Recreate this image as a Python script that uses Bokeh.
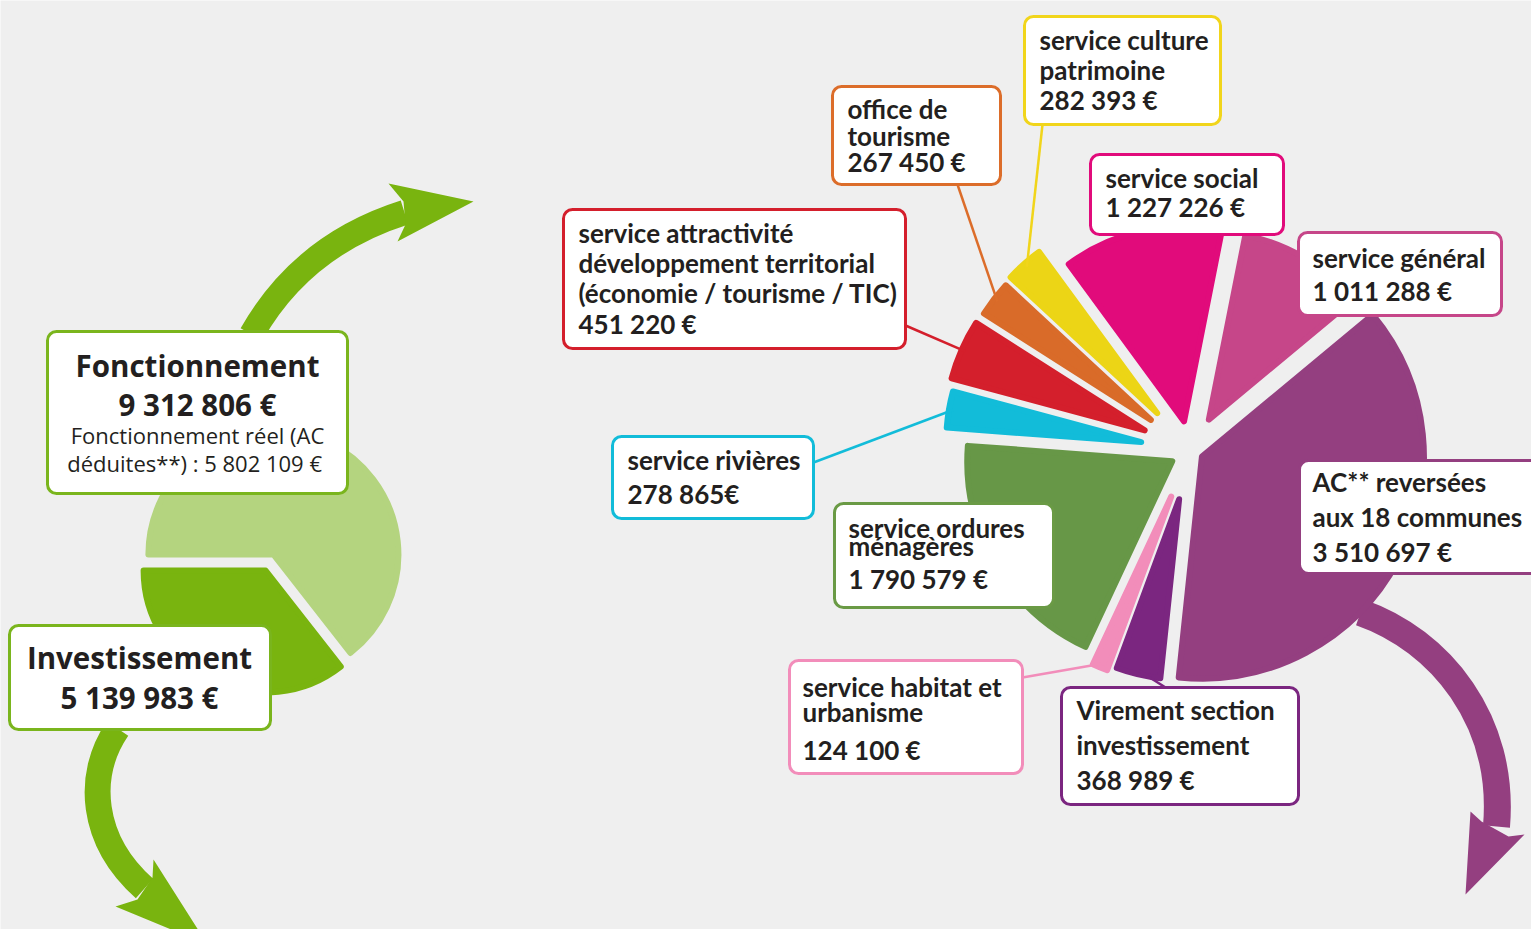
import math
from bokeh.plotting import figure
from bokeh.models import Range1d
from bokeh.core.properties import value
from bokeh.embed import file_html
from bokeh.resources import INLINE

# ---------------- data ----------------
summary_labels = ["Investissement", "Fonctionnement"]
summary_values = [5139983, 9312806]
fonct_reel = 5802109

services = ["AC** reversées aux 18 communes", "service général", "service social",
            "service culture patrimoine", "office de tourisme",
            "service attractivité développement territorial (économie / tourisme / TIC)",
            "service rivières", "service ordures ménagères",
            "service habitat et urbanisme", "Virement section investissement"]
service_values = [3510697, 1011288, 1227226, 282393, 267450, 451220, 278865, 1790579, 124100, 368989]
label_lines = [
    ["AC** reversées", "aux 18 communes"],
    ["service général"],
    ["service social"],
    ["service culture", "patrimoine"],
    ["office de", "tourisme"],
    [" service attractivité", "développement territorial", "(économie / tourisme / TIC)"],
    ["service rivières"],
    ["service ordures", "ménagères"],
    ["service habitat et", "urbanisme"],
    ["Virement section", "investissement"],
]
euro_suffix = [" €", " €", " €", " €", " €", " €", "€", " €", " €", " €"]

# ---------------- styles / layout ----------------
BG = "#efefef"
TXT = "#231f20"
colors = ["#943f80", "#c64689", "#e10b7b", "#ecd516", "#d96b29",
          "#d41f2c", "#12bcd9", "#679747", "#f28dba", "#7b2680"]
border_colors = ["#943f80", "#c64689", "#e10b7b", "#f1d51b", "#dc6d2a",
                 "#d41f2c", "#12bcd9", "#6a9a45", "#f28dba", "#7b2680"]
radii = [222, 188, 195, 200, 198, 200, 195, 205, 185, 180]
GREEN_DARK = "#79b40f"
GREEN_LIGHT = "#b4d47f"
GREEN_BORDER = "#7ab51d"

W, H = 1531, 929
TEXT_SHIFT_R = 9.5   # alphabetic-baseline correction (px)
TEXT_SHIFT_L = 11


def Y(py):
    return H - py


def fmt(v):
    return f"{v:,}".replace(",", " ")


p = figure(width=W, height=H, x_range=Range1d(0, W), y_range=Range1d(0, H),
           output_backend="svg", toolbar_location=None, min_border=0,
           x_axis_location=None, y_axis_location=None,
           background_fill_color=BG, border_fill_color=BG, outline_line_color=None)
p.grid.visible = False


def exploded(vals, start_deg, cx, cy, gap, cap):
    tot = float(sum(vals))
    a = start_deg
    out = []
    for v in vals:
        span = 360.0 * v / tot
        mid = math.radians(a + span / 2)
        d = min(gap / math.sin(math.radians(span / 2)), cap)
        out.append((cx + d * math.cos(mid), cy + d * math.sin(mid),
                    math.radians(a), math.radians(a + span), mid))
        a += span
    return out

# ---------------- decorative arrows (behind) ----------------
p.quadratic(x0=[251], y0=[Y(334)], x1=[404], y1=[Y(212)], cx=[301.5], cy=[Y(244.5)],
            line_color=GREEN_DARK, line_width=25)
p.patch([388, 473, 397, 405, 403], [Y(183), Y(201), Y(241), Y(224), Y(201)],
        fill_color=GREEN_DARK, line_color=None)
p.bezier(x0=[117], y0=[Y(728)], x1=[144], y1=[Y(888)], cx0=[85], cy0=[Y(775)],
         cx1=[90], cy1=[Y(840)], line_color=GREEN_DARK, line_width=26)
p.patch([115, 137, 152, 153, 207], [Y(906), Y(899), Y(877), Y(859), Y(944)],
        fill_color=GREEN_DARK, line_color=None)
p.bezier(x0=[1360], y0=[Y(612)], x1=[1496], y1=[Y(826)], cx0=[1440], cy0=[Y(640)],
         cx1=[1505], cy1=[Y(720)], line_color=colors[0], line_width=27)
p.patch([1470, 1465, 1524, 1508, 1481], [Y(811), Y(894), Y(834), Y(836), Y(821)],
        fill_color=colors[0], line_color=None)

# ---------------- left pie ----------------
left = exploded(summary_values, 180.0, 269, Y(562), 8, 40)
p.wedge(x=[w[0] for w in left], y=[w[1] for w in left], radius=[122, 125],
        start_angle=[w[2] for w in left], end_angle=[w[3] for w in left],
        direction="anticlock", fill_color=[GREEN_DARK, GREEN_LIGHT],
        line_color=[GREEN_DARK, GREEN_LIGHT], line_width=6, line_join="round")

# ---------------- right pie ----------------
right = exploded(service_values, -96.0, 1190, Y(450), 12, 50)
p.wedge(x=[w[0] for w in right], y=[w[1] for w in right], radius=radii,
        start_angle=[w[2] for w in right], end_angle=[w[3] for w in right],
        direction="anticlock", fill_color=colors, line_color=colors,
        line_width=6, line_join="round")

# leader lines: box anchor -> wedge tip
anchors = {3: (1042, 124), 4: (957, 184), 5: (905, 325), 6: (813, 462), 8: (1022, 677), 9: (1165, 687)}
for i, (ax, ay) in anchors.items():
    w = right[i]
    tx = w[0] + (radii[i] - 4) * math.cos(w[4])
    ty = w[1] + (radii[i] - 4) * math.sin(w[4])
    p.line([ax, tx], [Y(ay), ty], line_color=border_colors[i], line_width=2.5)

# ---------------- boxes ----------------
box_px = [
    (1299, 460, 1545, 573),
    (1298, 232, 1501, 315),
    (1090, 154, 1283, 234),
    (1024, 16, 1220, 124),
    (832, 86, 1000, 184),
    (563, 209, 905, 348),
    (612, 436, 813, 518),
    (834, 503, 1053, 607),
    (789, 660, 1022, 773),
    (1061, 687, 1298, 804),
]
p.quad(left=[b[0] for b in box_px], right=[b[2] for b in box_px],
       top=[Y(b[1]) for b in box_px], bottom=[Y(b[3]) for b in box_px],
       fill_color="white", line_color=border_colors, line_width=3, border_radius=9)
p.quad(left=[47, 9], right=[347, 270], top=[Y(331), Y(625)], bottom=[Y(493), Y(729)],
       fill_color="white", line_color=GREEN_BORDER, line_width=3, border_radius=9)

# ---------------- texts ----------------
text_x = [1312, 1312, 1105, 1039, 847, 578, 627, 848, 802, 1076]
baselines = [
    [491, 526, 561], [267, 300], [187, 216], [49, 79, 109], [118, 145, 171],
    [242, 272, 302, 333], [469, 503], [537, 555, 588], [696, 721, 759], [719, 754, 789],
]
tx_, ty_, tt_ = [], [], []
for i in range(len(services)):
    lines = label_lines[i] + [fmt(service_values[i]) + euro_suffix[i]]
    for j, s in enumerate(lines):
        tx_.append(text_x[i])
        ty_.append(Y(baselines[i][j] - TEXT_SHIFT_R))
        tt_.append(s)
p.text(x=tx_, y=ty_, text=tt_, text_font=value("Lato"), text_font_style="bold",
       text_font_size="26px", text_color=TXT, text_baseline="alphabetic", text_align="left")

# left boxes text
p.text(x=[197, 197, 139, 139],
       y=[Y(376 - TEXT_SHIFT_L), Y(415 - TEXT_SHIFT_L), Y(668 - TEXT_SHIFT_L), Y(708 - TEXT_SHIFT_L)],
       text=[summary_labels[1], fmt(summary_values[1]) + " €",
             summary_labels[0], fmt(summary_values[0]) + " €"],
       text_font=value("Open Sans"), text_font_style="bold", text_font_size="29.5px",
       text_color=TXT, text_baseline="alphabetic", text_align="center")
p.text(x=[197, 197], y=[Y(445 - TEXT_SHIFT_L), Y(473 - TEXT_SHIFT_L)],
       text=["Fonctionnement réel (AC", "déduites**) : " + fmt(fonct_reel) + "  €"],
       text_font=value("Open Sans"), text_font_size="22px",
       text_color=TXT, text_baseline="alphabetic", text_align="center")

html = file_html(p, INLINE)
html = html.replace("<body>", '<body style="background-color:%s;">' % BG, 1)
open("out.html", "w").write(html)
